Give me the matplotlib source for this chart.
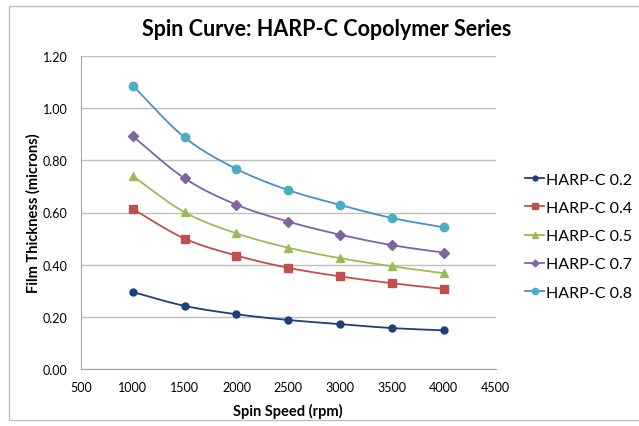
import numpy as np
import matplotlib.pyplot as plt
from matplotlib.patches import Rectangle

plt.rcParams['font.family'] = ['Lato', 'DejaVu Sans']

# data
speed = [1000, 1500, 2000, 2500, 3000, 3500, 4000]
harp_02 = [0.295, 0.242, 0.210, 0.188, 0.172, 0.157, 0.148]
harp_04 = [0.613, 0.500, 0.435, 0.388, 0.355, 0.329, 0.307]
harp_05 = [0.739, 0.601, 0.520, 0.465, 0.425, 0.394, 0.367]
harp_07 = [0.892, 0.731, 0.630, 0.565, 0.515, 0.475, 0.446]
harp_08 = [1.086, 0.888, 0.767, 0.686, 0.629, 0.579, 0.543]
labels = ['HARP-C 0.2', 'HARP-C 0.4', 'HARP-C 0.5', 'HARP-C 0.7', 'HARP-C 0.8']

series = [harp_02, harp_04, harp_05, harp_07, harp_08]
line_cols = ['#1F3F7A', '#C0504D', '#9BBB59', '#8064A2', '#4A8FC8']
mark_cols = ['#1F3F7A', '#C0504D', '#9BBB59', '#8064A2', '#4BACC6']
markers = ['o', 's', '^', 'D', 'o']
msizes = [5, 6, 6, 5, 6]


def smooth(x, y, n=20):
    # catmull-rom style smoothing like excel's smoothed line
    x = np.asarray(x, float)
    y = np.asarray(y, float)
    px = np.concatenate([[2 * x[0] - x[1]], x, [2 * x[-1] - x[-2]]])
    py = np.concatenate([[2 * y[0] - y[1]], y, [2 * y[-1] - y[-2]]])
    xs, ys = [], []
    t = np.linspace(0, 1, n)
    for i in range(1, len(px) - 2):
        for arr, out in ((px, xs), (py, ys)):
            p0, p1, p2, p3 = arr[i - 1], arr[i], arr[i + 1], arr[i + 2]
            m1 = (p2 - p0) / 6
            m2 = (p3 - p1) / 6
            c1 = p1 + m1
            c2 = p2 - m2
            out.extend((1 - t) ** 3 * p1 + 3 * (1 - t) ** 2 * t * c1 + 3 * (1 - t) * t ** 2 * c2 + t ** 3 * p2)
    return xs, ys


fig = plt.figure(figsize=(6.39, 4.27), dpi=100)
fig.patches.append(Rectangle((9 / 639, 6 / 427), 640 / 639, 414 / 427, transform=fig.transFigure,
                             fill=False, edgecolor='#BFBFBF', linewidth=1))
ax = fig.add_axes([81 / 639, 1 - 370 / 427, 414.5 / 639, 313 / 427])

for y, lc, mc, m, ms, lab in zip(series, line_cols, mark_cols, markers, msizes, labels):
    sx, sy = smooth(speed, y)
    ax.plot(sx, sy, color=lc, linewidth=1.3)
    ax.plot(speed, y, linestyle='none', marker=m, markersize=ms, color=mc)
    ax.plot([], [], color=lc, linewidth=1.3, marker=m, markersize=ms - 1.5,
            markerfacecolor=mc, markeredgecolor=mc, label=lab)

ax.set_xlim(500, 4500)
ax.set_ylim(0, 1.2)
ax.set_xticks(range(500, 4501, 500))
ax.set_yticks(np.arange(0, 1.21, 0.2))
ax.set_yticklabels([f'{v:.2f}' for v in np.arange(0, 1.21, 0.2)])
ax.tick_params(length=0, labelsize=9)
ax.tick_params(axis='y', pad=9.5)
ax.tick_params(axis='x', pad=8.5)
ax.grid(axis='y', color='#BEBEBE', linewidth=1)
ax.set_axisbelow(True)
for s in ['top', 'right']:
    ax.spines[s].set_visible(False)
for s in ['left', 'bottom']:
    ax.spines[s].set_color('#A6A6A6')

ax.set_xlabel('Spin Speed (rpm)', fontsize=10.5, fontweight='bold', labelpad=7)
ax.set_ylabel('Film Thickness (microns)', fontsize=10.5, fontweight='bold', labelpad=2)
fig.text(327 / 639, 1 - 29 / 427, 'Spin Curve: HARP-C Copolymer Series', ha='center', va='center',
         fontsize=15.5, fontweight='bold')

fig.legend(loc='center left', bbox_to_anchor=(511 / 639, 1 - 237 / 427), frameon=False,
           fontsize=11.5, handlelength=1.15, handletextpad=0.12, labelspacing=0.88)

fig.savefig('out.png', dpi=100)
